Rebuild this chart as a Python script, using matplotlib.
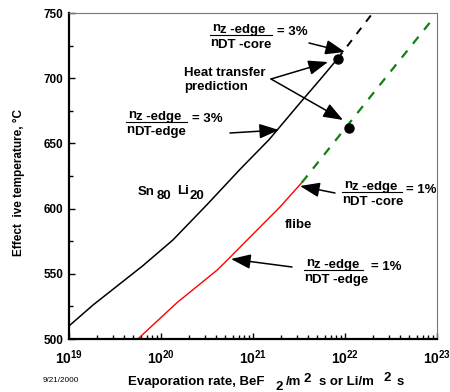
import matplotlib
matplotlib.use("Agg")
import matplotlib.pyplot as plt
from matplotlib.patches import FancyArrowPatch
from matplotlib.ticker import LogLocator, MultipleLocator, FixedLocator, FixedFormatter, NullFormatter

plt.rcParams["font.family"] = ["Liberation Sans", "DejaVu Sans"]
plt.rcParams["font.weight"] = "bold"
plt.rcParams["mathtext.fontset"] = "custom"
plt.rcParams["mathtext.rm"] = "Liberation Sans:bold"
plt.rcParams["mathtext.bf"] = "Liberation Sans:bold"
plt.rcParams["mathtext.it"] = "Liberation Sans:bold"

# Sn80Li20, nz-edge/nDT-edge = 3%  (solid black)
snli_rate = [1.0e19, 1.82e19, 6.3e19, 1.35e20, 3.16e20, 7.2e20, 1.5e21, 3.24e21, 5.37e21, 8.32e21]
snli_temp = [510, 526, 556, 576, 603, 630, 653, 681, 699, 715]
# Sn80Li20, nz-edge/nDT-core = 3%  (dashed black)
snli_core_rate = [8.32e21, 2.0e22]
snli_core_temp = [715, 750]
# flibe, nz-edge/nDT-edge = 1%  (solid red)
flibe_rate = [5.6e19, 1.5e20, 4.1e20, 5.0e20, 1.95e21, 3.4e21]
flibe_temp = [500, 528, 553, 559, 601, 620]
# flibe, nz-edge/nDT-core = 1%  (dashed green)
flibe_core_rate = [3.4e21, 3.2e22, 8.9e22]
flibe_core_temp = [620, 706, 745]
# heat transfer predictions
pred_rate = [8.3e21, 1.1e22]
pred_temp = [715, 662]

x_ticks = [1e19, 1e20, 1e21, 1e22, 1e23]
x_labels = [r"$\mathbf{10^{19}}$", r"$\mathbf{10^{20}}$", r"$\mathbf{10^{21}}$",
            r"$\mathbf{10^{22}}$", r"$\mathbf{10^{23}}$"]
y_ticks = [500, 550, 600, 650, 700, 750]

W, H = 450, 392
fig = plt.figure(figsize=(W / 100, H / 100), dpi=100)
ax = fig.add_axes([69 / W, 1 - 339 / H, (437 - 69) / W, (339 - 13) / H])


def P(x, y):
    # reference pixel -> figure fraction
    return (x / W, 1 - y / H)


ax.plot(snli_rate, snli_temp, color="black", lw=1.1)
ax.plot(snli_core_rate, snli_core_temp, color="black", lw=1.4, dashes=(4, 4))
ax.plot(flibe_rate, flibe_temp, color="red", lw=1.0)
ax.plot(flibe_core_rate, flibe_core_temp, color="#118011", lw=1.6, dashes=(4, 4))
ax.plot(pred_rate, pred_temp, "o", color="black", ms=6.5, ls="none")

ax.set_xscale("log")
ax.set_xlim(1e19, 1e23)
ax.set_ylim(500, 750)
ax.xaxis.set_major_locator(FixedLocator(x_ticks))
ax.xaxis.set_major_formatter(FixedFormatter(x_labels))
ax.xaxis.set_minor_locator(LogLocator(base=10, subs=range(2, 10), numticks=20))
ax.xaxis.set_minor_formatter(NullFormatter())
ax.yaxis.set_major_locator(FixedLocator(y_ticks))
ax.yaxis.set_minor_locator(MultipleLocator(25))
ax.tick_params(which="both", direction="in", top=False, right=False, width=1)
ax.tick_params(which="major", length=4)
ax.tick_params(which="minor", length=3)
ax.tick_params(axis="x", which="major", pad=7, labelsize=10)
ax.tick_params(axis="y", which="major", pad=4, labelsize=8.5)

for s in ["left", "bottom"]:
    ax.spines[s].set_linewidth(1.6)
for s in ["top", "right"]:
    ax.spines[s].set_linewidth(0.8)
    ax.spines[s].set_color("#777777")

fs = 9.5

# axis titles, pieced together to keep the full-size sub/superscripts
fig.text(*P(19, 183), "Effect  ive temperature, \u00b0C", rotation=90,
         ha="center", va="center", fontsize=8.5, fontweight="bold")
xlabel_parts = [("Evaporation rate, BeF", 128, 385), ("2", 275, 390), ("/m", 286, 385),
                ("2", 304, 382), ("s or Li/m", 319, 385), ("2", 383, 381), ("s", 397, 385)]
for txt, x, y in xlabel_parts:
    fig.text(*P(x, y), txt, fontsize=fs, va="baseline")
fig.text(*P(43, 380), "9/21/2000", ha="left", va="center", fontsize=5.9, fontweight="normal")


def fraction(x0, y_line, x1, top, bot, rhs, x_rhs, y_rhs):
    fig.text(*P(x0 + 2, y_line - 4), "n", fontsize=fs, va="baseline")
    fig.text(*P(x0 + 10, y_line - 2), top, fontsize=fs, va="baseline")
    fig.add_artist(plt.Line2D([x0 / W, x1 / W], [1 - y_line / H] * 2,
                              transform=fig.transFigure, color="black", lw=0.8))
    fig.text(*P(x0, y_line + 11), "n", fontsize=fs, va="baseline")
    fig.text(*P(x0 + 8, y_line + 13), bot, fontsize=fs, va="baseline")
    fig.text(*P(x_rhs, y_rhs), rhs, fontsize=fs, va="center")


fraction(210, 35, 272, "z -edge", "DT -core", "= 3%", 277, 32)
fraction(126, 122, 187, "z -edge", "DT-edge", "= 3%", 192, 119)
fraction(342, 192, 402, "z -edge", "DT -core", "= 1%", 406, 190)
fraction(304, 270, 363, "z -edge", "DT -edge", "= 1%", 371, 267)

fig.text(*P(184, 80), "Heat transfer\nprediction", fontsize=fs, va="center",
         linespacing=1.2)
fig.text(*P(138, 195), "Sn", fontsize=fs, va="baseline")
fig.text(*P(157, 199), "80", fontsize=fs, va="baseline")
fig.text(*P(177, 194), "Li", fontsize=fs, va="baseline")
fig.text(*P(189, 199), "20", fontsize=fs, va="baseline")
fig.text(*P(285, 228), "flibe", fontsize=fs, va="baseline")

arrows = [((309, 43), (345, 52)), ((271, 79), (328, 62)), ((271, 79), (343, 120)),
          ((230, 133), (279, 130)), ((335, 193), (300, 186)), ((292, 267), (231, 259))]
for tail, head in arrows:
    fig.add_artist(FancyArrowPatch(
        P(*tail), P(*head), transform=fig.transFigure,
        arrowstyle="-|>,head_length=1.2,head_width=0.45", mutation_scale=10,
        color="black", lw=1.1, shrinkA=0, shrinkB=0))

fig.savefig("out.png", dpi=100)
